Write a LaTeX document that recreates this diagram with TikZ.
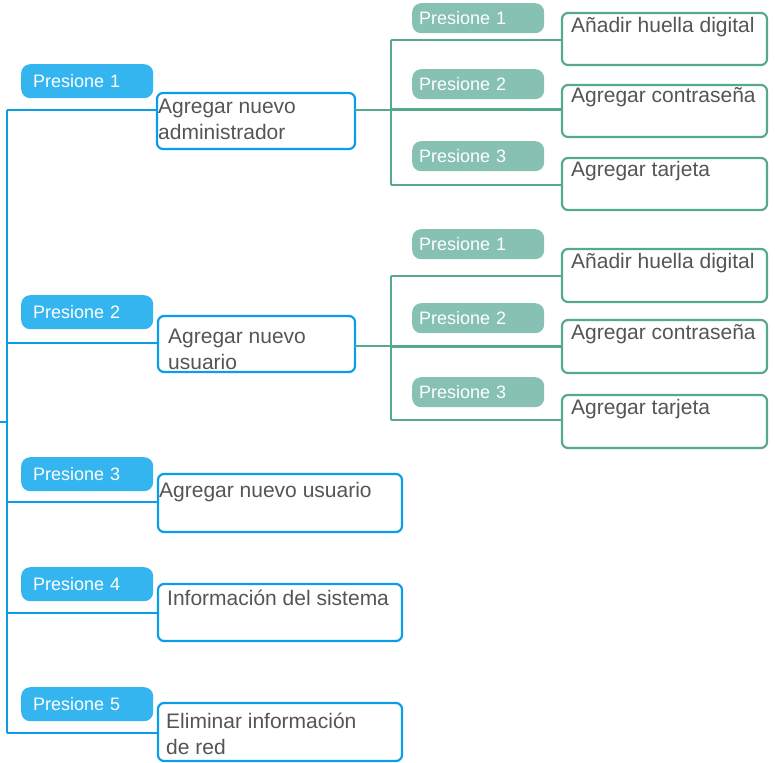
\documentclass[tikz,border=0pt]{standalone}
\usepackage{fontspec}
\setmainfont{Liberation Sans}
\definecolor{pillblue}{HTML}{35B5EF}
\definecolor{lineblue}{HTML}{0B9DE8}
\definecolor{pillgreen}{HTML}{86C1B4}
\definecolor{linegreen}{HTML}{55AA8E}
\definecolor{txtgray}{HTML}{555555}
\tikzset{
	pill/.style={anchor=north west, rounded corners=9pt, text=white,
		font=\fontsize{18}{22}\selectfont, inner ysep=0pt, align=left,
		minimum width=132pt},
	bluepill/.style={pill, fill=pillblue, inner xsep=12pt, text width=108pt,
		minimum height=34pt},
	greenpill/.style={pill, fill=pillgreen, inner xsep=7pt, text width=118pt,
		minimum height=30pt},
	optbox/.style={draw, line width=2.2pt, rounded corners=6pt, fill=white,
		inner sep=0pt, outer sep=0pt},
	bluebox/.style={optbox, draw=lineblue},
	greenbox/.style={optbox, draw=linegreen},
	boxtext/.style={anchor=base west, inner sep=0pt, text=txtgray, align=left,
		font=\fontsize{21}{26}\selectfont},
	blueline/.style={draw=lineblue, line width=2.2pt},
	greenline/.style={draw=linegreen, line width=2.2pt}
}
\begin{document}
\begin{tikzpicture}[x=1pt,y=-1pt]
	\useasboundingbox (0,0) rectangle (775,762);
	
	% main menu
	\node[bluepill] (p1) at (21,64) {Presione 1};
	\node[bluepill] (p2) at (21,295) {Presione 2};
	\node[bluepill] (p3) at (21,457) {Presione 3};
	\node[bluepill] (p4) at (21,567) {Presione 4};
	\node[bluepill] (p5) at (21,687) {Presione 5};
	
	\node[bluebox, minimum width=198pt, minimum height=56pt] (b1) at (256,121) {};
	\node[bluebox, minimum width=197pt, minimum height=56pt] (b2) at (256.5,344) {};
	\node[bluebox, minimum width=244pt, minimum height=58pt] (b3) at (280,503) {};
	\node[bluebox, minimum width=244pt, minimum height=57pt] (b4) at (280,612.5) {};
	\node[bluebox, minimum width=244pt, minimum height=58pt] (b5) at (280,732) {};
	
	% base = last line
	\node[boxtext] (l1) at (158,140) {Agregar nuevo\\administrador};
	\node[boxtext] (l2) at (168,369) {Agregar nuevo\\usuario};
	\node[boxtext] (l3) at (159,497) {Agregar nuevo usuario};
	\node[boxtext] (l4) at (167,605) {Información del sistema};
	\node[boxtext] (l5) at (166,754) {Eliminar información\\de red};
	
	% submenus
	\node[greenpill] (q1) at (412,3) {Presione 1};
	\node[greenpill] (q2) at (412,69) {Presione 2};
	\node[greenpill] (q3) at (412,141) {Presione 3};
	\node[greenpill] (r1) at (412,229) {Presione 1};
	\node[greenpill] (r2) at (412,303) {Presione 2};
	\node[greenpill] (r3) at (412,377) {Presione 3};
	
	\node[greenbox, minimum width=205pt, minimum height=52pt] (g1) at (664.5,39) {};
	\node[greenbox, minimum width=205pt, minimum height=52pt] (g2) at (664.5,111) {};
	\node[greenbox, minimum width=205pt, minimum height=52pt] (g3) at (664.5,184) {};
	\node[greenbox, minimum width=205pt, minimum height=53pt] (h1) at (664.5,275.5) {};
	\node[greenbox, minimum width=205pt, minimum height=53pt] (h2) at (664.5,346.5) {};
	\node[greenbox, minimum width=205pt, minimum height=53pt] (h3) at (664.5,421.5) {};
	
	\node[boxtext] (m1) at (571,33) {Añadir huella digital};
	\node[boxtext] (m2) at (571,103) {Agregar contraseña};
	\node[boxtext] (m3) at (571,176) {Agregar tarjeta};
	\node[boxtext] (n1) at (571,268) {Añadir huella digital};
	\node[boxtext] (n2) at (571,339) {Agregar contraseña};
	\node[boxtext] (n3) at (571,414) {Agregar tarjeta};
	
	% connectors
	\coordinate (root) at (0,422);
	\coordinate (t0) at (7,422);
	\coordinate (t1) at (7,110);
	\coordinate (t2) at (7,343);
	\coordinate (t3) at (7,502);
	\coordinate (t4) at (7,613);
	\coordinate (t5) at (7,733);
	\draw[blueline] (root) -- (t0);
	\draw[blueline] (t1) -- (t5);
	\draw[blueline] (t1) -- (t1 -| b1.west);
	\draw[blueline] (t2) -- (t2 -| b2.west);
	\draw[blueline] (t3) -- (t3 -| b3.west);
	\draw[blueline] (t4) -- (t4 -| b4.west);
	\draw[blueline] (t5) -- (t5 -| b5.west);
	
	\coordinate (u1) at (391,40);
	\coordinate (u2) at (391,110);
	\coordinate (u3) at (391,185);
	\draw[greenline] (b1.east |- u2) -- (u2);
	\draw[greenline] (u1) -- (u3);
	\draw[greenline] (u1) -- (u1 -| g1.west);
	\draw[greenline, line width=3pt] (u2) -- (u2 -| g2.west);
	\draw[greenline] (u3) -- (u3 -| g3.west);
	
	\coordinate (v1) at (391,276);
	\coordinate (v2) at (391,346);
	\coordinate (v3) at (391,420);
	\draw[greenline] (b2.east |- v2) -- (v2);
	\draw[greenline] (v1) -- (v3);
	\draw[greenline] (v1) -- (v1 -| h1.west);
	\draw[greenline, line width=3pt] (v2) -- (v2 -| h2.west);
	\draw[greenline] (v3) -- (v3 -| h3.west);
\end{tikzpicture}
\end{document}
